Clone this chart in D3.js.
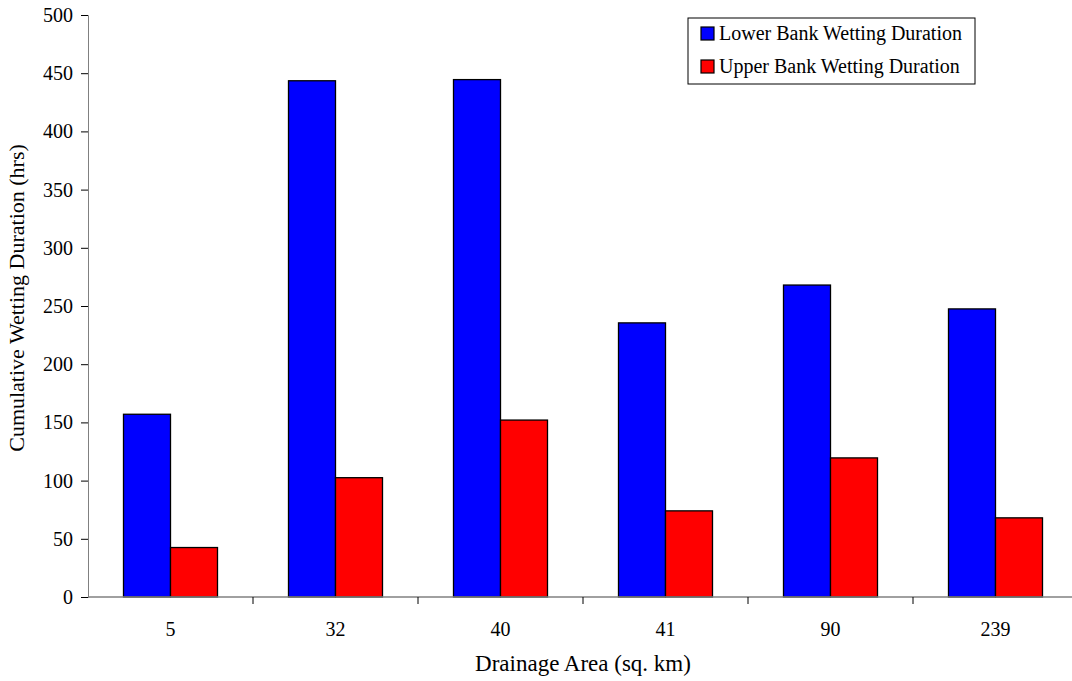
<!DOCTYPE html>
<html lang="en">
<head>
<meta charset="UTF-8">
<title>Cumulative Wetting Duration</title>
<script src="https://d3js.org/d3.v7.min.js"></script>
<style>
  body { margin: 0; background: #fff; }
  svg text { font-family: "Liberation Serif", "Times New Roman", serif; fill: #000; }
</style>
</head>
<body>
<div id="chart"></div>
<script>
// data
const areas = ["5", "32", "40", "41", "90", "239"];
const lowerBank = [157, 443.5, 444.5, 235.5, 268, 247.5];
const upperBank = [42.5, 102.5, 152, 74, 119.5, 68];
const seriesNames = ["Lower Bank Wetting Duration", "Upper Bank Wetting Duration"];
const seriesColors = ["#0000ff", "#ff0000"];
const yTicks = [0, 50, 100, 150, 200, 250, 300, 350, 400, 450, 500];

const FONT = "Liberation Serif";
const width = 1072, height = 681;
const margin = {left: 88, top: 15, bottom: 84};
const plotW = 990; // runs past the right edge, as in the original
const svg = d3.select("#chart").append("svg")
  .attr("width", width).attr("height", height)
  .attr("font-family", FONT);

const x = d3.scaleBand().domain(areas).range([margin.left, margin.left + plotW]);
const y = d3.scaleLinear().domain([0, 500]).range([height - margin.bottom, margin.top]);
const barW = 47;

const rows = areas.map((a, i) => ({area: a, vals: [lowerBank[i], upperBank[i]]}));

// bars
const g = svg.append("g");
rows.forEach(r => {
  r.vals.forEach((v, j) => {
    const cx = x(r.area) + x.bandwidth() / 2;
    g.append("rect")
      .attr("x", cx - barW + j * barW)
      .attr("y", y(v))
      .attr("width", barW)
      .attr("height", y(0) - y(v))
      .attr("fill", seriesColors[j])
      .attr("stroke", "#000")
      .attr("stroke-width", 1.3);
  });
});

// y axis
const yAxis = svg.append("g")
  .attr("transform", `translate(${margin.left},0)`)
  .call(d3.axisLeft(y).tickValues(yTicks).tickSize(7).tickPadding(8));
yAxis.attr("font-family", FONT).attr("font-size", 20);
yAxis.select(".domain").attr("stroke", "#808080");
yAxis.selectAll(".tick line").attr("stroke", "#000");

// x axis: ticks between categories
const xAxisG = svg.append("g").attr("transform", `translate(0,${y(0)})`);
xAxisG.append("line")
  .attr("x1", margin.left).attr("x2", margin.left + plotW)
  .attr("stroke", "#808080").attr("stroke-width", 1.3);
xAxisG.selectAll(".sep").data(areas.slice(1)).enter().append("line")
  .attr("x1", d => x(d)).attr("x2", d => x(d))
  .attr("y1", 0).attr("y2", 7)
  .attr("stroke", "#000");
xAxisG.selectAll(".lab").data(areas).enter().append("text")
  .attr("x", d => x(d) + x.bandwidth() / 2)
  .attr("y", 39)
  .attr("text-anchor", "middle")
  .attr("font-size", 20)
  .text(d => d);

// axis titles
svg.append("text")
  .attr("x", margin.left + plotW / 2)
  .attr("y", 671)
  .attr("text-anchor", "middle")
  .attr("font-size", 23)
  .text("Drainage Area (sq. km)");
svg.append("text")
  .attr("transform", "translate(24,298) rotate(-90)")
  .attr("text-anchor", "middle")
  .attr("font-size", 22)
  .text("Cumulative Wetting Duration (hrs)");

// legend
const lg = svg.append("g").attr("transform", "translate(688,18)");
lg.append("rect").attr("width", 287).attr("height", 66)
  .attr("fill", "#fff").attr("stroke", "#000").attr("stroke-width", 1);
seriesNames.forEach((n, i) => {
  const yy = 16 + i * 33;
  lg.append("rect").attr("x", 13).attr("y", yy - 7).attr("width", 13).attr("height", 13)
    .attr("fill", seriesColors[i]).attr("stroke", "#000").attr("stroke-width", 1.2);
  lg.append("text").attr("x", 31).attr("y", yy + 6)
    .attr("font-size", 20).text(n);
});
</script>
</body>
</html>
